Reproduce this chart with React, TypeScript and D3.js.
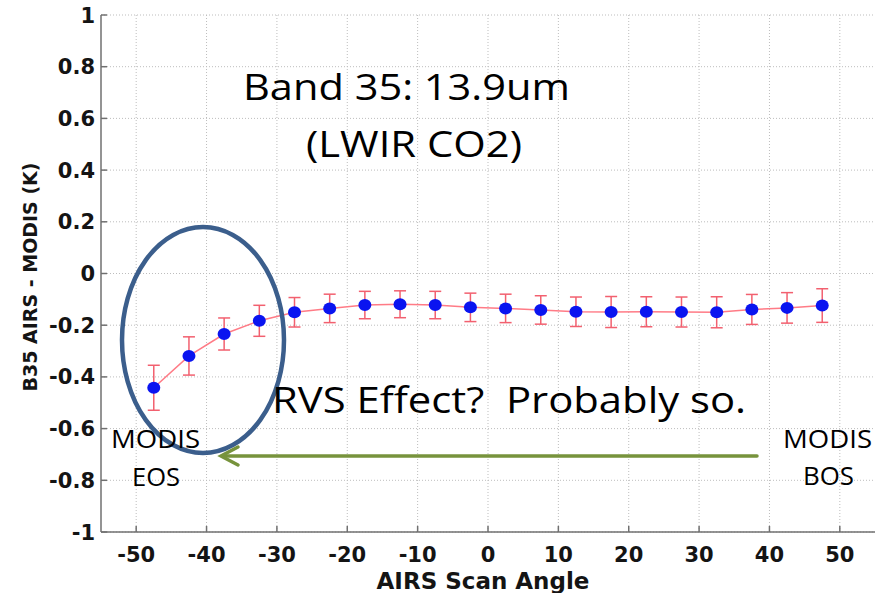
import React from 'react';
import * as d3 from 'd3';

// scan angle bin centres (deg)
const angles = [-47.5, -42.5, -37.5, -32.5, -27.5, -22.5, -17.5, -12.5, -7.5, -2.5,
  2.5, 7.5, 12.5, 17.5, 22.5, 27.5, 32.5, 37.5, 42.5, 47.5];
// B35 AIRS - MODIS mean difference (K)
const meanDiff = [-0.442, -0.319, -0.234, -0.183, -0.150, -0.135, -0.122, -0.119, -0.122, -0.131,
  -0.135, -0.141, -0.148, -0.149, -0.148, -0.149, -0.150, -0.139, -0.133, -0.124];
// half-width of error bars (K)
const errHalf = [0.087, 0.074, 0.062, 0.060, 0.057, 0.055, 0.053, 0.052, 0.053, 0.055,
  0.055, 0.055, 0.057, 0.060, 0.058, 0.058, 0.060, 0.058, 0.059, 0.065];

const xTicks = [-50, -40, -30, -20, -10, 0, 10, 20, 30, 40, 50];
const yTicks = [1, 0.8, 0.6, 0.4, 0.2, 0, -0.2, -0.4, -0.6, -0.8, -1];

const W = 879;
const H = 593;
const AXIS_FONT = '"DejaVu Sans", sans-serif';
const NOTE_FONT = '"Open Sans", Lato, sans-serif';

export default function App() {
  const x = d3.scaleLinear().domain([-55, 55]).range([101, 875]);
  const y = d3.scaleLinear().domain([-1, 1]).range([532, 15]);

  const line = d3
    .line<number>()
    .x((_, i) => x(angles[i]))
    .y((d) => y(d));

  const x0 = x.range()[0];
  const x1 = x.range()[1];
  const yb = y.range()[0];
  const yt = y.range()[1];

  return (
    <svg
      width={W}
      height={H}
      viewBox={`0 0 ${W} ${H}`}
      style={{ position: 'absolute', left: 0, top: 0, background: '#fff' }}
    >
      <rect width={W} height={H} fill="#fff" />

      {/* grid */}
      <g stroke="#bdbdbd" strokeWidth={1} strokeDasharray="1,2">
        {xTicks.map((t) => (
          <line key={'gx' + t} x1={x(t)} x2={x(t)} y1={yt} y2={yb} />
        ))}
        {yTicks.map((t) => (
          <line key={'gy' + t} x1={x0} x2={x1} y1={y(t)} y2={y(t)} />
        ))}
      </g>

      {/* axes */}
      <g stroke="#707070" strokeWidth={1.5}>
        <line x1={x0} x2={x0} y1={yt} y2={yb} />
        <line x1={x0} x2={x1} y1={yb} y2={yb} />
        {xTicks.map((t) => (
          <line key={'tx' + t} x1={x(t)} x2={x(t)} y1={yb} y2={yb - 6} />
        ))}
        {yTicks.map((t) => (
          <line key={'ty' + t} x1={x0} x2={x0 + 6} y1={y(t)} y2={y(t)} />
        ))}
      </g>

      <g fontFamily={AXIS_FONT} fontWeight="bold" fontSize={21} fill="#141414">
        {xTicks.map((t) => (
          <text key={'lx' + t} x={x(t)} y={562} textAnchor="middle">
            {t}
          </text>
        ))}
        {yTicks.map((t) => (
          <text key={'ly' + t} x={95} y={y(t) + 7.5} textAnchor="end">
            {t}
          </text>
        ))}
        <text x={483} y={589} textAnchor="middle" fontSize={23}>
          AIRS Scan Angle
        </text>
        <text
          transform={`translate(37, 277) rotate(-90)`}
          textAnchor="middle"
          fontSize={19}
        >
          B35 AIRS - MODIS (K)
        </text>
      </g>

      {/* data */}
      <path d={line(meanDiff) || ''} fill="none" stroke="#ff7b86" strokeWidth={1.5} />
      <g stroke="#f2606f" strokeWidth={1.5}>
        {angles.map((a, i) => {
          const cx = x(a);
          const top = y(meanDiff[i] + errHalf[i]);
          const bot = y(meanDiff[i] - errHalf[i]);
          return (
            <g key={'e' + i}>
              <line x1={cx} x2={cx} y1={top} y2={bot} />
              <line x1={cx - 6} x2={cx + 6} y1={top} y2={top} />
              <line x1={cx - 6} x2={cx + 6} y1={bot} y2={bot} />
            </g>
          );
        })}
      </g>
      <g fill="#0a14f0">
        {angles.map((a, i) => (
          <ellipse key={'p' + i} cx={x(a)} cy={y(meanDiff[i])} rx={6.5} ry={6} />
        ))}
      </g>

      {/* annotations */}
      <ellipse cx={203} cy={340} rx={81} ry={113} fill="none" stroke="#3b5e8c" strokeWidth={4.5} />
      <g stroke="#77933c" strokeWidth={3.5} fill="none" strokeLinecap="round">
        <line x1={757} x2={222} y1={456} y2={456} />
        <polyline points="238,447 221,456 238,465" />
      </g>

      <g fontFamily={NOTE_FONT} fill="#000">
        <text x={243} y={100} fontSize={37} textLength={327} lengthAdjust="spacingAndGlyphs">
          Band 35: 13.9um
        </text>
        <text x={306} y={157} fontSize={37} textLength={216} lengthAdjust="spacingAndGlyphs">
          (LWIR CO2)
        </text>
        <text x={272} y={413} fontSize={36} xmlSpace="preserve" textLength={474} lengthAdjust="spacingAndGlyphs">
          RVS Effect?  Probably so.
        </text>
        <text x={111} y={448} fontSize={25} textLength={89} lengthAdjust="spacingAndGlyphs">
          MODIS
        </text>
        <text x={132} y={486} fontSize={25} textLength={48} lengthAdjust="spacingAndGlyphs">
          EOS
        </text>
        <text x={783} y={448} fontSize={25} textLength={89} lengthAdjust="spacingAndGlyphs">
          MODIS
        </text>
        <text x={803} y={485} fontSize={25} textLength={51} lengthAdjust="spacingAndGlyphs">
          BOS
        </text>
      </g>
    </svg>
  );
}
